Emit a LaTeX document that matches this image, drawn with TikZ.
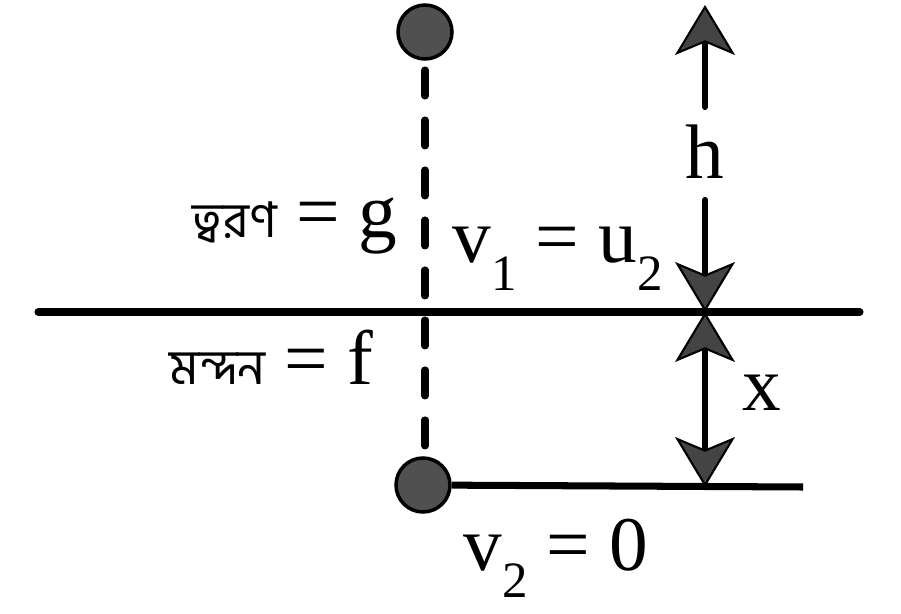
\documentclass[tikz,border=0pt]{standalone}
\usepackage{tkz-euclide}
\usetikzlibrary{arrows.meta}
\usepackage{fontspec}
\setmainfont{Liberation Serif}
\newfontfamily\serif{Liberation Serif}
\newfontfamily\bnfont[Script=Bengali]{Hind Siliguri}

\definecolor{ballgray}{HTML}{505050}
\definecolor{arrowgray}{HTML}{444444}
\newcommand{\lowsub}[1]{\raisebox{-0.36em}{\fontsize{29}{29}\selectfont #1}}
\tikzset{
    ball/.style={circle, draw=black, line width=2pt, fill=ballgray, minimum size=1.08cm, inner sep=0pt},
    ground/.style={line width=4pt},
    dashline/.style={line width=4pt, dash pattern=on 0.52cm off 0.48cm},
    headtip/.tip={Stealth[length=1cm, width=1.2cm, inset=0.25cm, line width=1.2pt, fill=arrowgray]},
    tip/.style={line width=3.5pt, -headtip},
    dbltip/.style={line width=3.5pt, headtip-headtip},
    big/.style={font=\serif\fontsize{44}{52}\selectfont, inner sep=0pt},
}

\begin{document}
\begin{tikzpicture}[x=0.02cm, y=-0.02cm]
                \useasboundingbox (0,0) rectangle (901,614);
                \tkzDefPoints{425/32/T, 423/485/S, 425/70/D_1, 425/452/D_2}
                \tkzDefPoints{38/312/G_1, 860/312/G_2, 803/487/F}
                \tkzDefPoints{705/5/H_1, 705/107/H_2, 705/200/H_3, 705/312/M, 705/487/N}
                \tkzDrawSegments[dashline](D_1,D_2)
                \node[ball] (top) at (T) {};
                \node[ball] (bot) at (S) {};
                \tkzDrawSegments[ground](G_1,G_2)
                \draw[ground] (bot) -- (F);
                \tkzDrawSegments[tip](H_2,H_1 H_3,M)
                \tkzDrawSegments[dbltip](M,N)
                \node[big] (h) at (705,152) {h};
                \node[big] (x) at (762,393) {x};
                \node[big, anchor=base east] (acc) at (398,238) {{\bnfont\fontsize{28}{32}\selectfont ত্বরণ} = g};
                \node[big, anchor=base east] (ret) at (374,384) {{\bnfont\fontsize{28}{32}\selectfont মন্দন} = f};
                \node[big, anchor=base west] (v1) at (452,263) {v\lowsub{1} = u\lowsub{2}};
                \node[big, anchor=base west] (v2) at (463,570) {v\lowsub{2} = 0};
\end{tikzpicture}
\end{document}
